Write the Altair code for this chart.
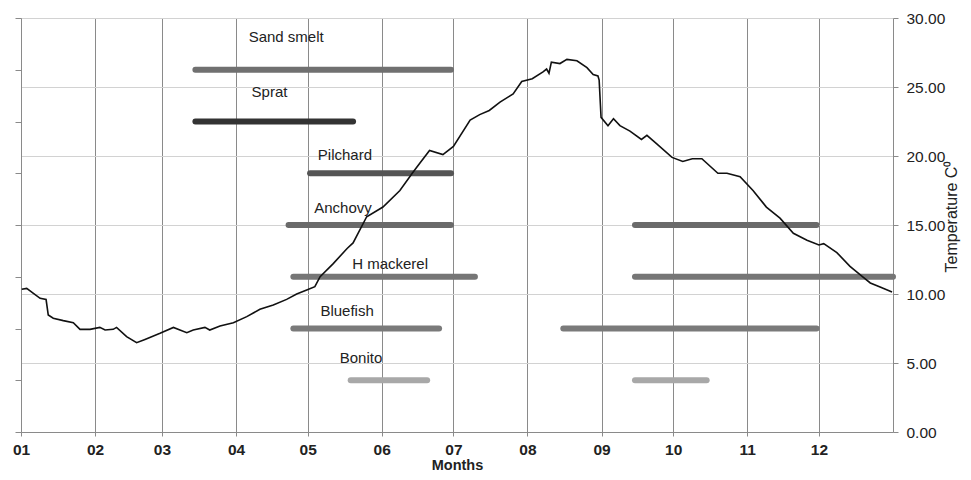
import altair as alt
import pandas as pd

# ---------------- data ----------------
months = ["01", "02", "03", "04", "05", "06", "07", "08", "09", "10", "11", "12"]
month_start_day = [0, 31, 59, 90, 120, 151, 181, 212, 243, 273, 304, 334]

temp_day = [0.3, 2.4, 5.2, 8, 10.5, 11.4, 13.5, 17.7, 21.9, 24.7, 28.9, 33, 35.2, 38.6, 40,
            44.2, 48.4, 51.9, 58.2, 63.8, 69.4, 72.1, 77, 79, 83.3, 88.9, 94.5, 100, 105.6,
            111.2, 115.4, 119.6, 123, 125.2, 130.7, 136.5, 139, 144.7, 151.5, 158.6, 164, 167,
            171, 176.6, 181, 188, 192, 196, 200.5, 206, 209.6, 214, 218.5, 220, 221, 222, 225.6,
            228.5, 232.7, 236.9, 239.5, 241.5, 242, 242.8, 245.7, 248, 250.7, 254.9, 259.7, 262,
            266, 272.5, 277, 281, 285, 291.7, 295.5, 301, 306.4, 312, 317.7, 323.3, 329, 334,
            336, 341.5, 347, 352.6, 355.5, 359.6, 364.6]
temp_value = [10.34, 10.41, 10.05, 9.69, 9.6, 8.48, 8.24, 8.07, 7.92, 7.44, 7.44, 7.58, 7.39,
              7.44, 7.58, 6.91, 6.47, 6.71, 7.15, 7.58, 7.2, 7.39, 7.58, 7.39, 7.68, 7.92, 8.36,
              8.89, 9.2, 9.61, 10.0, 10.29, 10.53, 11.25, 12.2, 13.3, 13.7, 15.6, 16.3, 17.5,
              18.8, 19.5, 20.4, 20.1, 20.7, 22.6, 23.0, 23.3, 23.9, 24.5, 25.4, 25.6, 26.1, 26.3,
              26.0, 26.8, 26.7, 27.0, 26.9, 26.4, 25.9, 25.8, 25.5, 22.8, 22.2, 22.7, 22.2, 21.8,
              21.2, 21.5, 20.9, 19.9, 19.6, 19.8, 19.8, 18.75, 18.75, 18.5, 17.5, 16.3, 15.5,
              14.4, 13.9, 13.55, 13.65, 13.0, 12.0, 11.2, 10.8, 10.5, 10.15]

fish_names = ["Sand smelt", "Sprat", "Pilchard", "Anchovy", "H mackerel", "Bluefish", "Bonito"]
fish_rows = [7, 6, 5, 4, 3, 2, 1]
fish_label_day = [111, 104, 135.6, 134.8, 154.5, 136.5, 142.3]
fish_label_row = [7.63, 6.57, 5.35, 4.33, 3.25, 2.34, 1.43]

seg_fish = ["Sand smelt", "Sprat", "Pilchard", "Anchovy", "Anchovy", "H mackerel", "H mackerel",
            "Bluefish", "Bluefish", "Bonito", "Bonito"]
seg_start = [73, 73, 121, 112, 257, 114, 257, 114, 227, 138, 257]
seg_end = [180, 139, 180, 180, 333, 190, 365, 175, 333, 170, 287]

fish_colors = ["#707070", "#333333", "#555555", "#6a6a6a", "#767676", "#7a7a7a", "#a8a8a8"]

# ---------------- tables ----------------
row_of = dict(zip(fish_names, fish_rows))
seg_df = pd.DataFrame({"fish": seg_fish, "start": seg_start, "end": seg_end,
                       "row": [row_of[f] for f in seg_fish]})
lab_df = pd.DataFrame({"fish": fish_names, "day": fish_label_day, "row": fish_label_row})
temp_df = pd.DataFrame({"day": temp_day, "temp": temp_value})

label_expr = " : ".join(f"datum.value == {d} ? '{m}'" for d, m in zip(month_start_day, months)) + " : ''"

FONT = "Liberation Sans"
AX = "#8a8a8a"

xscale = alt.Scale(domain=[0, 365], nice=False, zero=False)
row_scale = alt.Scale(domain=[0, 8], nice=False, zero=False)

x_axis = alt.Axis(values=month_start_day, labelExpr=label_expr, title="Months",
                  grid=True, gridColor=AX, gridWidth=1, domainColor=AX, tickColor=AX,
                  tickSize=4, labelPadding=6, labelFont=FONT, labelFontSize=15.5,
                  labelFontWeight="bold", labelColor="#222", labelFlush=False,
                  labelOverlap=False, titleFont=FONT, titleFontSize=14.5,
                  titleFontWeight="bold", titleColor="#222", titlePadding=1)

bars = alt.Chart(seg_df).mark_rule(strokeWidth=6, strokeCap="round").encode(
    x=alt.X("start:Q", scale=xscale, axis=x_axis),
    x2="end:Q",
    y=alt.Y("row:Q", scale=row_scale,
            axis=alt.Axis(orient="left", values=list(range(9)), labels=False, title=None,
                          grid=False, tickSize=6, tickColor=AX, domainColor=AX)),
    color=alt.Color("fish:N", scale=alt.Scale(domain=fish_names, range=fish_colors), legend=None),
)

labels = alt.Chart(lab_df).mark_text(font=FONT, fontSize=15, color="#222").encode(
    x=alt.X("day:Q", scale=xscale, axis=x_axis),
    y=alt.Y("row:Q", scale=row_scale),
    text="fish:N",
)

line = alt.Chart(temp_df).mark_line(color="#111111", strokeWidth=1.6).encode(
    x=alt.X("day:Q", scale=xscale, axis=x_axis),
    y=alt.Y("temp:Q", scale=alt.Scale(domain=[0, 30], nice=False),
            axis=alt.Axis(orient="right", values=[0, 5, 10, 15, 20, 25, 30], format=".2f",
                          grid=True, gridColor="#d2d2d2", tickSize=5, tickColor=AX,
                          domainColor=AX, labelPadding=8, labelFont=FONT, labelFontSize=15.5,
                          labelColor="#222", title="Temperature C\u2070", titleAngle=270,
                          titleFont=FONT, titleFontSize=16, titleFontWeight="normal",
                          titleColor="#222", titlePadding=15, titleY=198)),
)

chart = alt.layer(alt.layer(bars, labels), line).resolve_scale(y="independent").properties(
    width=872, height=414,
    autosize=alt.AutoSizeParams(type="none"),
    padding={"left": 13, "top": 10, "right": 70, "bottom": 40},
).configure_view(stroke=None)

chart.save("out.html", embed_options={"renderer": "svg", "actions": False})
